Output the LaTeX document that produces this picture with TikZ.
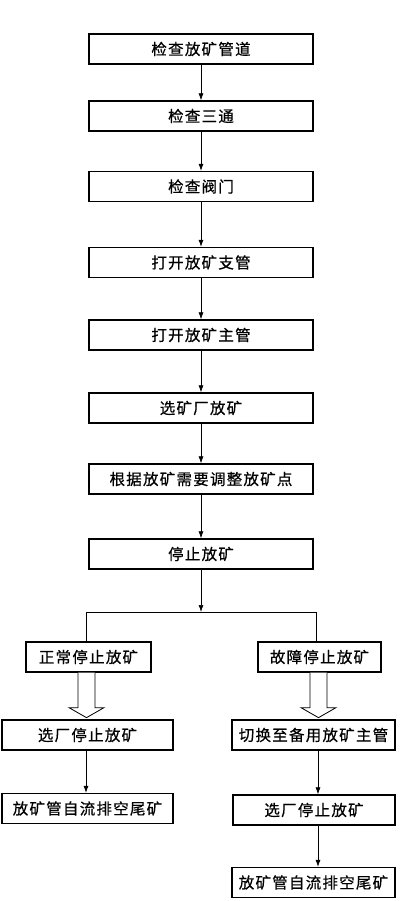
\documentclass[tikz,border=0pt]{standalone}
\usepackage{fontspec}
\newfontfamily\cjk[LetterSpace=8,FakeBold=0.6]{Noto Sans CJK SC}
\usetikzlibrary{arrows.meta}
\begin{document}
\begin{tikzpicture}[x=1pt,y=-1pt,
  box/.style={draw,line width=1.3pt,minimum height=30pt,inner sep=0pt,font=\cjk\fontsize{15.5}{16}\selectfont},
  conn/.style={line width=0.7pt,-{Latex[length=7pt,width=5pt]}},
  plain/.style={line width=0.7pt},
  hollow/.style={line width=0.8pt,fill=white}]
\useasboundingbox (0,0) rectangle (405,901);
\node[box,minimum width=224pt] (b1) at (201,49) {检查放矿管道};
\node[box,minimum width=224pt] (b2) at (201,116) {检查三通};
\node[box,minimum width=224pt] (b3) at (201,186.5) {检查阀门};
\node[box,minimum width=224pt] (b4) at (201,262.5) {打开放矿支管};
\node[box,minimum width=224pt] (b5) at (201,335) {打开放矿主管};
\node[box,minimum width=224pt] (b6) at (201,408) {选矿厂放矿};
\node[box,minimum width=224pt] (b7) at (201,479) {根据放矿需要调整放矿点};
\node[box,minimum width=224pt] (b8) at (201,554) {停止放矿};
\node[box,minimum width=125pt] (n1) at (88.5,657) {正常停止放矿};
\node[box,minimum width=123pt] (n2) at (319.5,657) {故障停止放矿};
\node[box,minimum width=171pt] (l1) at (87.5,735) {选厂停止放矿};
\node[box,minimum width=163pt] (r1) at (313.5,735) {切换至备用放矿主管};
\node[box,minimum width=171pt] (l2) at (87.5,808.5) {放矿管自流排空尾矿};
\node[box,minimum width=162pt] (r2) at (314,810) {选厂停止放矿};
\node[box,minimum width=163pt] (r3) at (313.5,882.5) {放矿管自流排空尾矿};
\coordinate (split) at (201,612);
\draw[conn] (b1) -- (b2);
\draw[conn] (b2) -- (b3);
\draw[conn] (b3) -- (b4);
\draw[conn] (b4) -- (b5);
\draw[conn] (b5) -- (b6);
\draw[conn] (b6) -- (b7);
\draw[conn] (b7) -- (b8);
\draw[conn] (b8) -- (split);
\draw[plain] (split) -| ([xshift=-2.5pt]n1.north);
\draw[plain] (split) -| ([xshift=-3pt]n2.north);
\draw[hollow] ([xshift=-2pt]n1.south) ++(-8.5,0) -- ++(0,35) -- ++(-9,0) -- ++(17.5,10) -- ++(17.5,-10) -- ++(-9,0) -- ++(0,-35);
\draw[hollow] ([xshift=-1pt]n2.south) ++(-8.5,0) -- ++(0,35) -- ++(-9,0) -- ++(17.5,10) -- ++(17.5,-10) -- ++(-9,0) -- ++(0,-35);
\draw[conn] ([xshift=-1.5pt]l1.south) -- ([xshift=-1.5pt]l2.north);
\draw[conn] ([xshift=4.5pt]r1.south) -- ([xshift=4pt]r2.north);
\draw[conn] ([xshift=4pt]r2.south) -- ([xshift=4.5pt]r3.north);
\end{tikzpicture}
\end{document}
